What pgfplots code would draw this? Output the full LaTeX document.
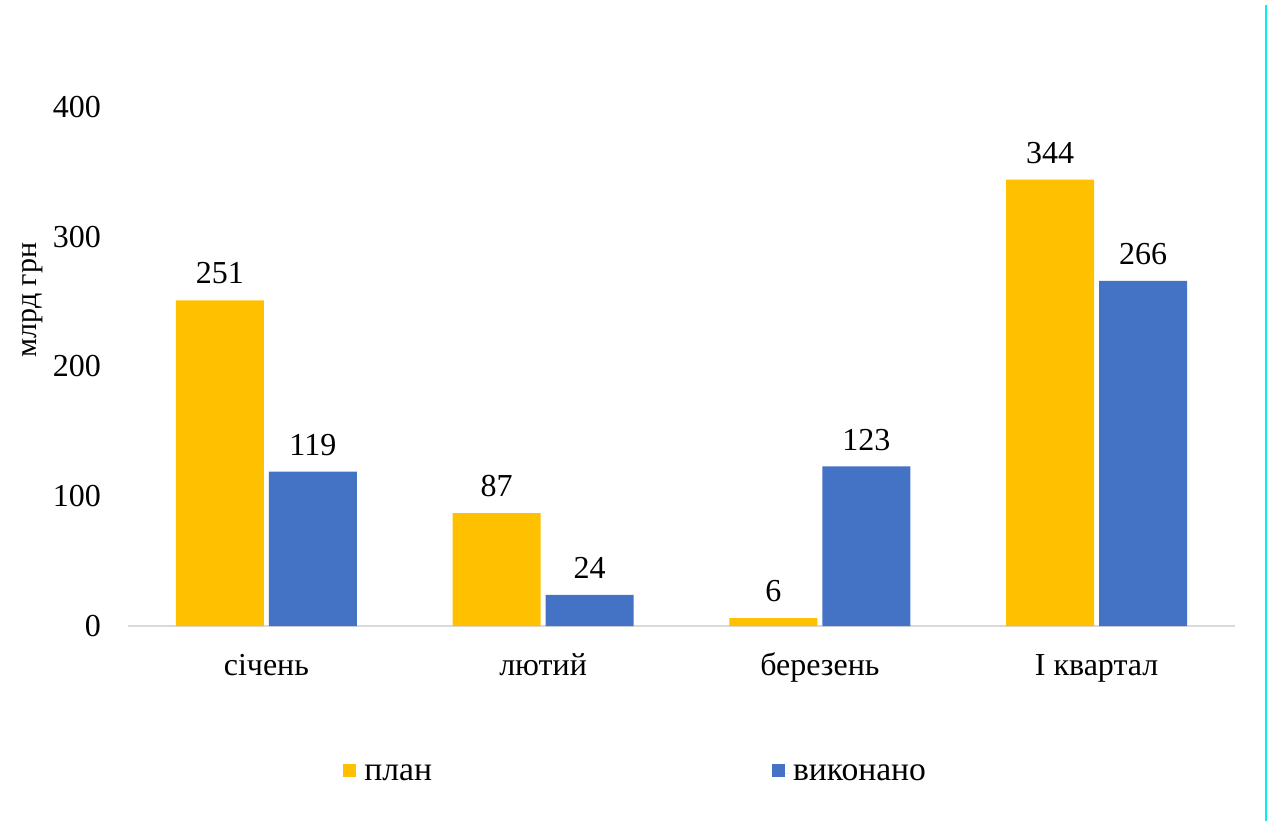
\documentclass[border=0pt]{standalone}
\usepackage{fontspec}
\setmainfont{Liberation Serif}
\usepackage{pgfplots}
\pgfplotsset{compat=1.18}

\definecolor{plan}{HTML}{FFC000}
\definecolor{done}{HTML}{4472C4}
\definecolor{axisgray}{HTML}{D9D9D9}
\definecolor{edge}{HTML}{00F0F0}

\begin{document}
\begin{tikzpicture}
  \useasboundingbox (-64pt,-97.5pt) rectangle (570.5pt,313pt);
  \begin{axis}[
    at={(0,0)}, anchor=south west,
    scale only axis,
    width=553.5pt, height=259.5pt,
    ybar=2.5pt, bar width=44pt,
    xmin=-0.5, xmax=3.5,
    ymin=0, ymax=400,
    ytick={0,100,...,400},
    xtick=data,
    xticklabels={січень, лютий, березень, І квартал},
    axis x line*=bottom, axis y line*=left,
    x axis line style={-, draw=axisgray, line width=1pt},
    y axis line style={draw=none},
    major tick length=0pt,
    /pgf/number format/assume math mode=true,
    tick label style={font=\fontsize{16}{18}\selectfont},
    yticklabel style={xshift=-10pt},
    xticklabel style={anchor=base, yshift=-24.5pt, font=\fontsize{16}{18}\selectfont},
    ylabel={млрд грн},
    ylabel style={at={(axis description cs:-0.086,0.628)}, anchor=center, font=\fontsize{15}{17}\selectfont},
    nodes near coords,
    nodes near coords style={anchor=south, yshift=4.5pt, font=\fontsize{16}{18}\selectfont},
    legend columns=2,
    legend style={at={(axis description cs:0.4595,-0.285)}, anchor=center, draw=none,
      font=\fontsize{16.8}{19}\selectfont,
      /tikz/every even column/.append style={column sep=168pt}},
    legend image code/.code={\fill[#1] (0pt,-1.5pt) rectangle (6.5pt,5pt);
      \path (0pt,0pt) -- (8.5pt,0pt);},
  ]
    \addplot[fill=plan, draw=none] coordinates {(0,251) (1,87) (2,6) (3,344)};
    \addlegendentry{план}
    \addplot[fill=done, draw=none] coordinates {(0,119) (1,24) (2,123) (3,266)};
    \addlegendentry{виконано}
  \end{axis}
  \draw[edge, line width=1pt] (569pt,310.5pt) -- (569pt,-97.5pt);
\end{tikzpicture}
\end{document}
